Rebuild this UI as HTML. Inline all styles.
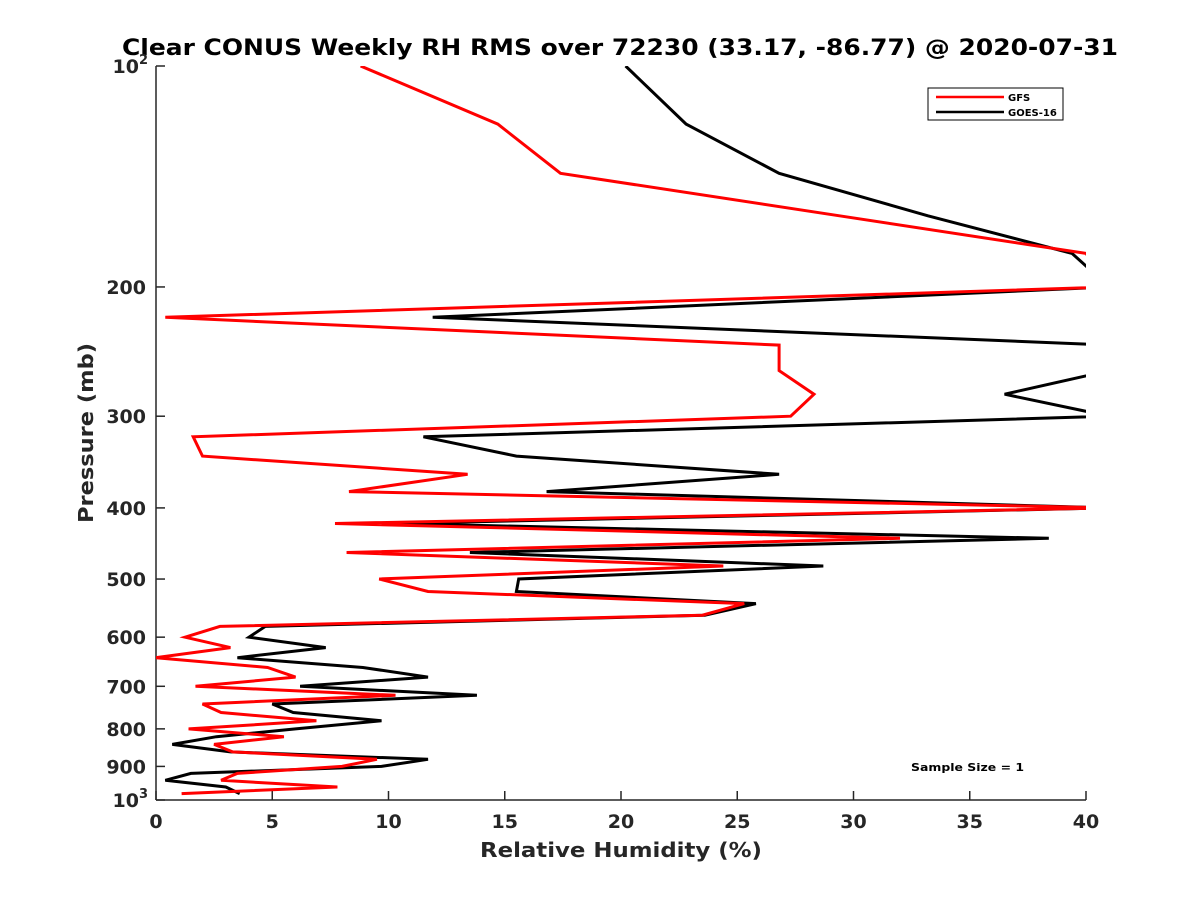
<!DOCTYPE html>
<html><head><meta charset="utf-8"><style>
body{margin:0;background:#fff;font-family:"DejaVu Sans","Liberation Sans",sans-serif}
</style></head><body>
<svg id="chart" width="1200" height="900" xmlns="http://www.w3.org/2000/svg" font-family="DejaVu Sans, Liberation Sans, sans-serif">
<rect width="1200" height="900" fill="#fff"/>
<defs><clipPath id="plotclip"><rect x="156" y="66" width="930" height="734"/></clipPath></defs>
<text x="122" y="55" font-size="22" font-weight="bold" textLength="996" lengthAdjust="spacingAndGlyphs">Clear CONUS Weekly RH RMS over 72230 (33.17, -86.77) @ 2020-07-31</text>
<g id="axes"></g>
<g id="series" clip-path="url(#plotclip)"></g>
<text x="480" y="857" font-size="20" font-weight="bold" fill="#262626" textLength="282" lengthAdjust="spacingAndGlyphs">Relative Humidity (%)</text>
<text transform="translate(93,523) rotate(-90)" font-size="20" font-weight="bold" fill="#262626" textLength="180" lengthAdjust="spacingAndGlyphs">Pressure (mb)</text>
<g>
<rect x="928" y="88" width="135" height="32" fill="#fff" stroke="#000" stroke-width="1"/>
<line x1="936" y1="97" x2="1004" y2="97" stroke="#f00" stroke-width="2.5"/>
<text x="1008" y="101" font-size="10" font-weight="bold">GFS</text>
<line x1="936" y1="112" x2="1004" y2="112" stroke="#000" stroke-width="2.5"/>
<text x="1008" y="116" font-size="10" font-weight="bold">GOES-16</text>
</g>
<text x="911" y="771" font-size="11" font-weight="bold" textLength="113" lengthAdjust="spacingAndGlyphs">Sample Size = 1</text>
</svg>
<script>
const pressureLevels=[100,120,140,160,180,200,220,240,260,280,300,320,340,360,380,400,420,440,460,480,500,520,540,560,580,600,620,640,660,680,700,720,740,760,780,800,820,840,860,880,900,920,940,960,980];
const gfsRH=[8.8,14.7,17.4,29.4,40,41,0.4,26.8,26.8,28.3,27.3,1.6,2.0,13.4,8.3,41,7.7,32.0,8.2,24.4,9.6,11.7,25.3,23.5,2.75,1.25,3.2,0,4.8,6.0,1.7,10.3,2.0,2.8,6.9,1.4,5.5,2.5,3.3,9.5,8.0,3.5,2.8,7.8,1.1];
const goesRH=[20.2,22.8,26.8,33.2,39.4,41,11.9,41,41,36.5,41,11.5,15.5,26.8,16.8,41,10.3,38.4,13.5,28.7,15.6,15.5,25.8,23.6,4.7,4.0,7.3,3.5,8.9,11.7,6.2,13.8,5.0,5.9,9.7,6.0,2.6,0.7,3.2,11.7,9.7,1.5,0.4,3.0,3.6];
const xTicks=[0,5,10,15,20,25,30,35,40];
const yTicks=[100,200,300,400,500,600,700,800,900,1000];
const NS='http://www.w3.org/2000/svg';
const X0=156,X1=1086,Y0=66,Y1=800;
function xs(v){return X0+(v/40)*(X1-X0);}
function ys(p){return Y0+(Math.log10(p)-2)*(Y1-Y0);}
function mk(t,a,parent){const e=document.createElementNS(NS,t);for(const k in a)e.setAttribute(k,a[k]);parent.appendChild(e);return e;}
const axes=document.getElementById('axes');
const ya=mk('line',{x1:X0,y1:Y0,x2:X0,y2:Y1,stroke:'#262626','stroke-width':1.5},axes);


const xa=mk('line',{x1:X0,y1:Y1,x2:X1,y2:Y1,stroke:'#262626','stroke-width':1.5},axes);


xTicks.forEach(v=>{
  mk('line',{x1:xs(v),y1:Y1,x2:xs(v),y2:Y1-9,stroke:'#262626','stroke-width':1.5},axes);
  const t=mk('text',{x:xs(v),y:Y1+28,'text-anchor':'middle','font-size':19,'font-weight':'bold',fill:'#262626'},axes);
  
  
  t.textContent=v;
});
yTicks.forEach(p=>{
  const y=ys(p);
  mk('line',{x1:X0,y1:y,x2:X0+9,y2:y,stroke:'#262626','stroke-width':1.5},axes);
  const t=mk('text',{x:X0-10,y:y+7,'text-anchor':'end','font-size':19,'font-weight':'bold',fill:'#262626'},axes);
  
  
  if(p===100||p===1000){
    t.textContent='10';
    const s=mk('tspan',{dy:-9,'font-size':13},t);
    s.textContent=p===100?'2':'3';
    t.setAttribute('x',X0-8);
  } else t.textContent=p;
});
const ser=document.getElementById('series');
function draw(vals,color,name){
  const pts=vals.map((v,i)=>xs(v).toFixed(1)+','+ys(pressureLevels[i]).toFixed(1)).join(' ');
  const pl=mk('polyline',{points:pts,fill:'none',stroke:color,'stroke-width':3,'stroke-linejoin':'miter'},ser);
  
  
}
draw(goesRH,'#000','goes16-line');
draw(gfsRH,'#f00','gfs-line');
</script>
</body></html>
